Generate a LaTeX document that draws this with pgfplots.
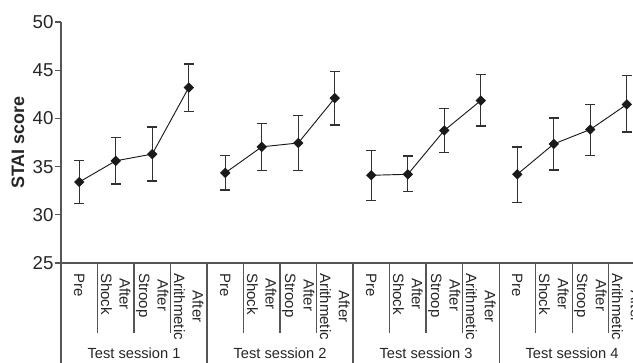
\documentclass[border=0pt]{standalone}
\usepackage{pgfplots}
\pgfplotsset{compat=1.18}
\usepackage{fontspec}
\setmainfont{Liberation Sans}
\definecolor{axgray}{HTML}{555555}
\definecolor{txt}{HTML}{262626}
\definecolor{dat}{HTML}{1A1A1A}
\pgfplotsset{dstyle/.style={color=dat, line width=0.7pt, mark=square*, mark size=2.4pt,
     mark options={rotate=45, solid, fill=dat},
     error bars/y dir=both, error bars/y explicit,
     error bars/error bar style={line width=1pt, color=dat!90!white},
     error bars/error mark options={rotate=90, mark size=3.6pt, line width=1pt, color=dat!90!white}}}
\pgfplotstableread{
x y ep em
0 33.4 2.2 2.2
1 35.6 2.4 2.4
2 36.3 2.8 2.8
3 43.2 2.45 2.45
}\sone
\pgfplotstableread{
x y ep em
4 34.35 1.77 1.77
5 37.05 2.45 2.45
6 37.45 2.85 2.85
7 42.1 2.75 2.8
}\stwo
\pgfplotstableread{
x y ep em
8 34.1 2.6 2.6
9 34.2 1.9 1.8
10 38.75 2.3 2.3
11 41.85 2.7 2.65
}\sthree
\pgfplotstableread{
x y ep em
12 34.2 2.85 2.9
13 37.35 2.7 2.7
14 38.85 2.6 2.7
15 41.45 3.0 2.85
}\sfour
\begin{document}
\begin{tikzpicture}
\path[use as bounding box, clip] (0,0) rectangle (474.75pt,271.5pt);
\begin{axis}[
  at={(45.75pt,74.25pt)}, anchor=south west,
  scale only axis, width=429pt, height=180.75pt,
  xmin=-0.5, xmax=15.17, ymin=25, ymax=50,
  axis lines*=left,
  axis line style={axgray, line width=0.8pt},
  clip=false,
  ytick={25,30,...,50},
  tick align=outside, major tick length=4.5pt,
  ytick style={axgray, line width=0.8pt},
  xtick={0,...,15}, xtick style={draw=none},
  xticklabels={Pre,{After\\Shock},{After\\Stroop},{After\\Arithmetic},
               Pre,{After\\Shock},{After\\Stroop},{After\\Arithmetic},
               Pre,{After\\Shock},{After\\Stroop},{After\\Arithmetic},
               Pre,{After\\Shock},{After\\Stroop},{After\\Arithmetic}},
  xticklabel style={rotate=-90, anchor=west, align=center, inner sep=0pt,
     font=\fontsize{11.25}{14}\selectfont, text=txt},
  xticklabel shift=3pt,
  yticklabel style={font=\fontsize{14}{16}\selectfont, text=txt, inner sep=1pt},
  /pgf/number format/assume math mode=true,
  every axis y label/.style={at={(axis description cs:0,0.5)}, xshift=-32.25pt, rotate=90, anchor=center},
  ylabel={STAI score},
  ylabel style={font=\bfseries\fontsize{13.5}{16}\selectfont, text=txt},
]
\draw[axgray, line width=0.8pt] (axis cs:-0.5,25) -- ([yshift=-80pt]axis cs:-0.5,25);
\pgfplotsinvokeforeach{3.5,7.5,11.5}{
  \draw[axgray, line width=0.8pt] (axis cs:#1,25) -- ([yshift=-80pt]axis cs:#1,25);
}
\pgfplotsinvokeforeach{0.5,1.5,2.5,4.5,5.5,6.5,8.5,9.5,10.5,12.5,13.5,14.5}{
  \draw[axgray, line width=0.8pt] (axis cs:#1,25) -- ([yshift=-52.5pt]axis cs:#1,25);
}
\addplot[dstyle] table[x=x, y=y, y error plus=ep, y error minus=em] {\sone};
\addplot[dstyle] table[x=x, y=y, y error plus=ep, y error minus=em] {\stwo};
\addplot[dstyle] table[x=x, y=y, y error plus=ep, y error minus=em] {\sthree};
\addplot[dstyle] table[x=x, y=y, y error plus=ep, y error minus=em] {\sfour};
\node[font=\fontsize{11}{13}\selectfont, text=txt] at ([yshift=-67.5pt]axis cs:1.5,25) {Test session 1};
\node[font=\fontsize{11}{13}\selectfont, text=txt] at ([yshift=-67.5pt]axis cs:5.5,25) {Test session 2};
\node[font=\fontsize{11}{13}\selectfont, text=txt] at ([yshift=-67.5pt]axis cs:9.5,25) {Test session 3};
\node[font=\fontsize{11}{13}\selectfont, text=txt] at ([yshift=-67.5pt]axis cs:13.5,25) {Test session 4};
\end{axis}
\end{tikzpicture}
\end{document}
